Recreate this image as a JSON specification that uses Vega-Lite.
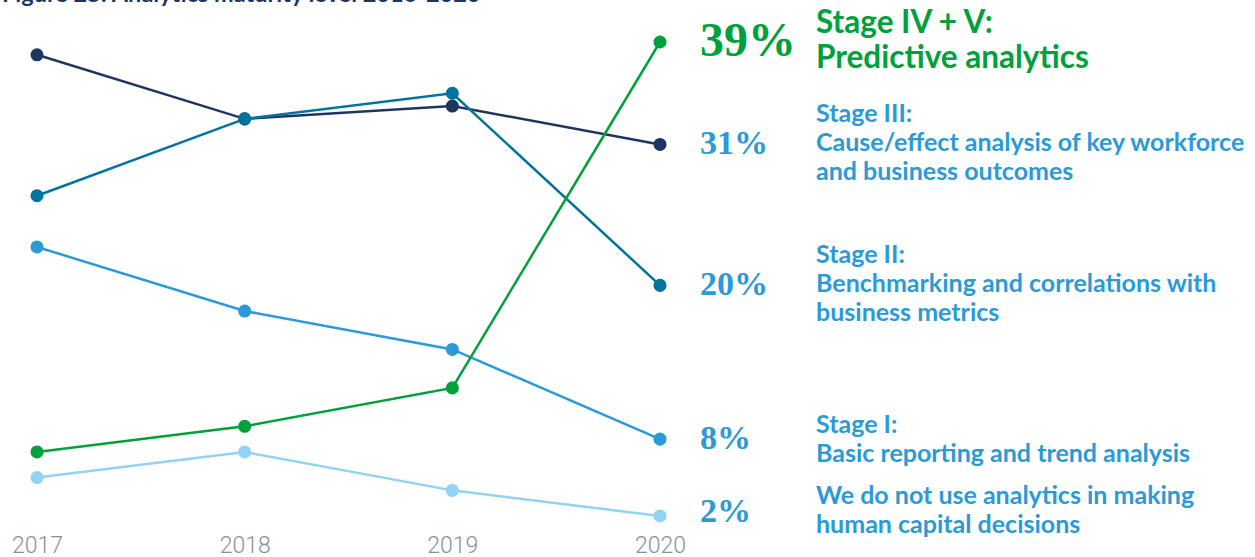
{
  "$schema": "https://vega.github.io/schema/vega-lite/v6.json",
  "autosize": {"type": "none"},
  "width": 623,
  "height": 499.6,
  "padding": {"left": 37, "top": 42, "right": 595, "bottom": 15.4},
  "background": "white",
  "title": {
    "text": "Figure 25: Analytics maturity level 2016-2020",
    "anchor": "start",
    "frame": "group",
    "orient": "top",
    "offset": 2,
    "dx": -35,
    "font": "Lato",
    "fontSize": 23.5,
    "fontWeight": "bold",
    "color": "#1f3561"
  },
  "config": {"view": {"stroke": null}},
  "datasets": {
    "series": [
      {"year": 2017, "stage": "Stage III", "value": 38},
      {"year": 2018, "stage": "Stage III", "value": 33},
      {"year": 2019, "stage": "Stage III", "value": 34},
      {"year": 2020, "stage": "Stage III", "value": 31},
      {"year": 2017, "stage": "Stage II", "value": 27},
      {"year": 2018, "stage": "Stage II", "value": 33},
      {"year": 2019, "stage": "Stage II", "value": 35},
      {"year": 2020, "stage": "Stage II", "value": 20},
      {"year": 2017, "stage": "Stage I", "value": 23},
      {"year": 2018, "stage": "Stage I", "value": 18},
      {"year": 2019, "stage": "Stage I", "value": 15},
      {"year": 2020, "stage": "Stage I", "value": 8},
      {"year": 2017, "stage": "Stage IV + V", "value": 7},
      {"year": 2018, "stage": "Stage IV + V", "value": 9},
      {"year": 2019, "stage": "Stage IV + V", "value": 12},
      {"year": 2020, "stage": "Stage IV + V", "value": 39},
      {"year": 2017, "stage": "No analytics", "value": 5},
      {"year": 2018, "stage": "No analytics", "value": 7},
      {"year": 2019, "stage": "No analytics", "value": 4},
      {"year": 2020, "stage": "No analytics", "value": 2}
    ],
    "labels": [
      {"year": 2020, "stage": "Stage IV + V", "value": 39, "pct": "39%", "desc": "Stage IV + V:\nPredictive analytics"},
      {"year": 2020, "stage": "Stage III", "value": 31, "pct": "31%", "desc": "Stage III:\nCause/effect analysis of key workforce\nand business outcomes"},
      {"year": 2020, "stage": "Stage II", "value": 20, "pct": "20%", "desc": "Stage II:\nBenchmarking and correlations with\nbusiness metrics"},
      {"year": 2020, "stage": "Stage I", "value": 8, "pct": "8%", "desc": "Stage I:\nBasic reporting and trend analysis"},
      {"year": 2020, "stage": "No analytics", "value": 2, "pct": "2%", "desc": "We do not use analytics in making\nhuman capital decisions"}
    ]
  },
  "encoding": {
    "x": {
      "field": "year",
      "type": "quantitative",
      "scale": {"domain": [2017, 2020], "nice": false, "zero": false},
      "axis": {
        "values": [2017, 2018, 2019, 2020],
        "format": "d",
        "title": null,
        "grid": false,
        "domain": false,
        "ticks": false,
        "labelFlush": false,
        "labelPadding": -7,
        "labelFont": "Roboto",
        "labelFontWeight": 300,
        "labelFontSize": 23,
        "labelColor": "#8b8f99"
      }
    },
    "y": {
      "field": "value",
      "type": "quantitative",
      "scale": {"domain": [0, 39], "nice": false, "zero": true},
      "axis": null
    }
  },
  "layer": [
    {
      "data": {"name": "series"},
      "mark": {"type": "line", "strokeWidth": 2.5},
      "encoding": {
        "color": {
          "field": "stage",
          "type": "nominal",
          "scale": {
            "domain": ["Stage II", "Stage III", "Stage I", "Stage IV + V", "No analytics"],
            "range": ["#00739f", "#1f3561", "#2b9ad6", "#00a03c", "#92d2f4"]
          },
          "legend": null
        }
      }
    },
    {
      "data": {"name": "series"},
      "mark": {"type": "circle", "size": 170, "opacity": 1},
      "encoding": {
        "color": {"field": "stage", "type": "nominal", "legend": null}
      }
    },
    {
      "data": {"name": "labels"},
      "transform": [{"filter": "datum.value != 2"}],
      "mark": {"type": "text", "align": "left", "baseline": "middle", "dx": 40, "font": "Liberation Serif", "fontWeight": "bold"},
      "encoding": {
        "text": {"field": "pct", "type": "nominal"},
        "size": {"condition": {"test": "datum.value == 39", "value": 48}, "value": 34},
        "color": {"condition": {"test": "datum.value == 39", "value": "#00a03c"}, "value": "#2b9ad6"}
      }
    },
    {
      "data": {"name": "labels"},
      "transform": [{"filter": "datum.value == 2"}],
      "mark": {"type": "text", "align": "left", "baseline": "middle", "dx": 40, "dy": -4, "font": "Liberation Serif", "fontWeight": "bold", "fontSize": 34, "color": "#2b9ad6"},
      "encoding": {
        "text": {"field": "pct", "type": "nominal"}
      }
    },
    {
      "data": {"name": "labels"},
      "transform": [{"filter": "datum.value == 39"}],
      "mark": {"type": "text", "align": "left", "baseline": "middle", "dx": 156, "dy": -18, "font": "Lato", "fontWeight": "bold", "fontSize": 31.5, "lineHeight": 35, "lineBreak": "\n", "color": "#00a03c"},
      "encoding": {"text": {"field": "desc", "type": "nominal"}}
    },
    {
      "data": {"name": "labels"},
      "transform": [{"filter": "datum.value == 31 || datum.value == 20"}],
      "mark": {"type": "text", "align": "left", "baseline": "middle", "dx": 156, "dy": -30, "font": "Lato", "fontWeight": "bold", "fontSize": 25, "lineHeight": 29, "lineBreak": "\n", "color": "#2b9ad6"},
      "encoding": {"text": {"field": "desc", "type": "nominal"}}
    },
    {
      "data": {"name": "labels"},
      "transform": [{"filter": "datum.value == 8"}],
      "mark": {"type": "text", "align": "left", "baseline": "middle", "dx": 156, "dy": -14, "font": "Lato", "fontWeight": "bold", "fontSize": 25, "lineHeight": 29, "lineBreak": "\n", "color": "#2b9ad6"},
      "encoding": {"text": {"field": "desc", "type": "nominal"}}
    },
    {
      "data": {"name": "labels"},
      "transform": [{"filter": "datum.value == 2"}],
      "mark": {"type": "text", "align": "left", "baseline": "middle", "dx": 156, "dy": -20, "font": "Lato", "fontWeight": "bold", "fontSize": 25, "lineHeight": 29, "lineBreak": "\n", "color": "#2b9ad6"},
      "encoding": {"text": {"field": "desc", "type": "nominal"}}
    }
  ]
}
